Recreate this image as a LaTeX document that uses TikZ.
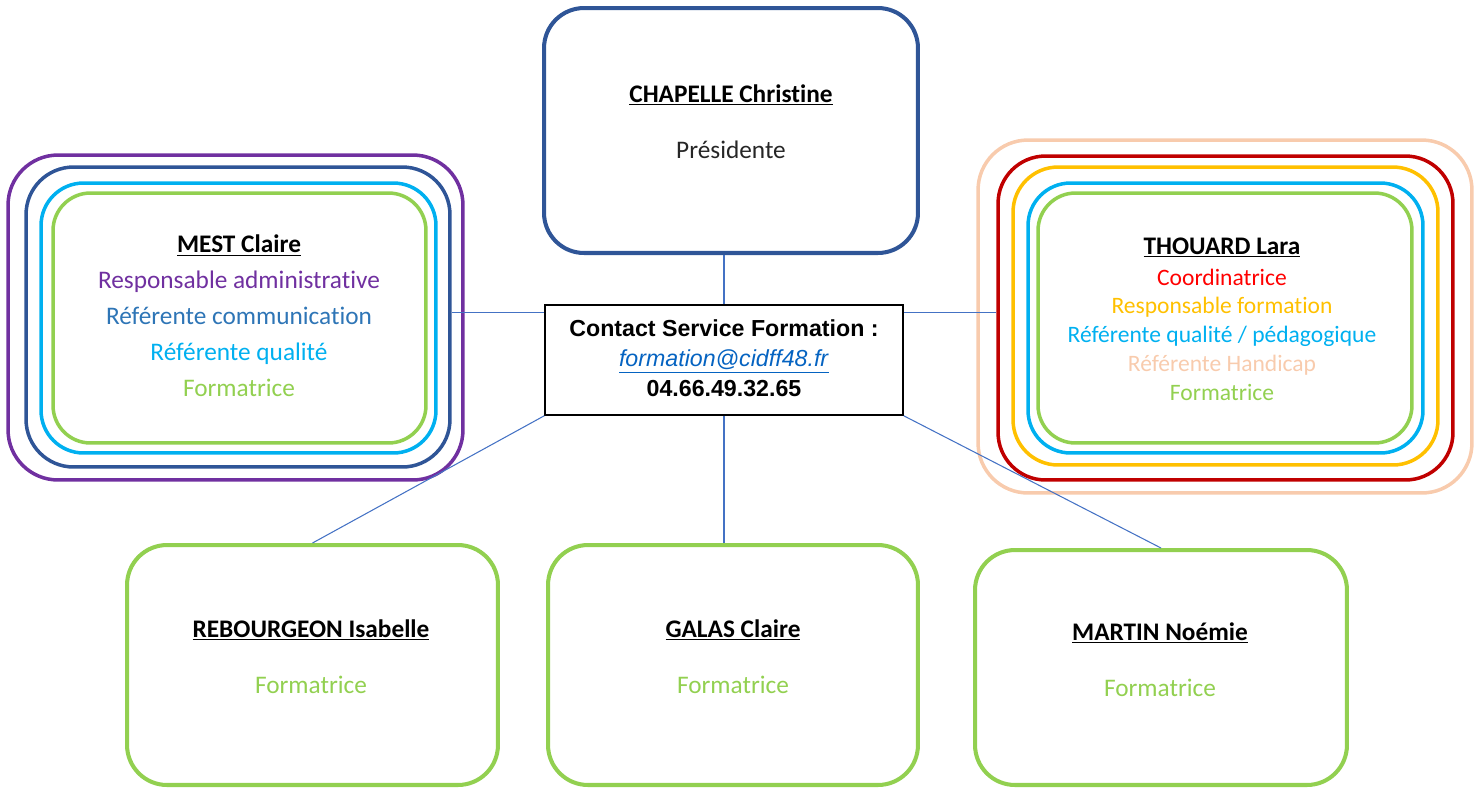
\documentclass[tikz,border=0pt]{standalone}
\usepackage{fontspec}
\setmainfont{Carlito}[RawFeature={-liga;-clig;-dlig;-calt}]
\newfontfamily\arialfont{Liberation Sans}
\usepackage{tikz}

\definecolor{darkblue}{HTML}{2F5597}
\definecolor{violet}{HTML}{7030A0}
\definecolor{midblue}{HTML}{2E75B6}
\definecolor{skyblue}{HTML}{00B0F0}
\definecolor{leafgreen}{HTML}{92D050}
\definecolor{darkred}{HTML}{C00000}
\definecolor{brightred}{HTML}{FF0000}
\definecolor{amber}{HTML}{FFC000}
\definecolor{peach}{HTML}{F8CBAD}
\definecolor{linkblue}{HTML}{4472C4}
\definecolor{mailblue}{HTML}{0563C1}
\definecolor{textgray}{HTML}{262626}

\begin{document}
\begin{tikzpicture}[x=0.02cm,y=-0.02cm]
  \tikzstyle{every node}=[font=\fontsize{14.4}{20.5}\selectfont]
  \tikzstyle{card}=[draw,rounded corners=0.8cm,line width=2.3pt,inner sep=0pt]
  \tikzstyle{ring}=[draw,rounded corners=0.8cm,line width=2pt,inner sep=0pt]
  \tikzstyle{link}=[draw=linkblue,line width=0.6pt]
  \useasboundingbox (0,0) rectangle (1481,789);
  % president
  \path (731,130.5) node[card,draw=darkblue,minimum width=7.48cm,minimum height=4.9cm] (chapelle) {};
  \path (731,121.5) node[align=center] (chapelleTxt) {\underline{\textbf{CHAPELLE Christine}}\\[11.5pt]\textcolor{textgray}{Présidente}};
  % left rings
  \path (235.5,317.5) node[ring,draw=violet,rounded corners=1cm,minimum width=9.1cm,minimum height=6.5cm] (mestA) {};
  \path (238,317) node[ring,draw=darkblue,rounded corners=0.95cm,minimum width=8.48cm,minimum height=6cm] (mestB) {};
  \path (238.5,318) node[ring,draw=skyblue,rounded corners=0.85cm,minimum width=7.9cm,minimum height=5.4cm] (mestC) {};
  \path (239.5,318) node[ring,draw=leafgreen,rounded corners=0.75cm,minimum width=7.46cm,minimum height=5cm] (mestD) {};
  \path (239,316) node[align=center] (mestTxt) {\underline{\textbf{MEST Claire}}\\
    \textcolor{violet}{Responsable administrative}\\
    \textcolor{midblue}{Référente communication}\\
    \textcolor{skyblue}{Référente qualité}\\
    \textcolor{leafgreen}{Formatrice}};
  % right rings
  \path (1225,316.5) node[ring,draw=peach,rounded corners=1cm,minimum width=9.88cm,minimum height=7.06cm] (thouardA) {};
  \path (1225.5,318) node[ring,draw=darkred,rounded corners=0.95cm,minimum width=9.1cm,minimum height=6.48cm] (thouardB) {};
  \path (1225.5,316) node[ring,draw=amber,rounded corners=0.9cm,minimum width=8.5cm,minimum height=5.96cm] (thouardC) {};
  \path (1225.5,318) node[ring,draw=skyblue,rounded corners=0.85cm,minimum width=7.9cm,minimum height=5.4cm] (thouardD) {};
  \path (1225,318) node[ring,draw=leafgreen,rounded corners=0.75cm,minimum width=7.48cm,minimum height=5cm] (thouardE) {};
  \path (1222,319) node[align=center,font=\fontsize{13.4}{16.4}\selectfont] (thouardTxt) {{\fontsize{14.4}{16.4}\selectfont\underline{\textbf{THOUARD Lara}}}\\[1.2pt]
    \textcolor{brightred}{Coordinatrice}\\
    \textcolor{amber}{Responsable formation}\\
    \textcolor{skyblue}{Référente qualité / pédagogique}\\
    \textcolor{peach}{Référente Handicap}\\
    \textcolor{leafgreen}{Formatrice}};
  % contact
  \path (724,360) node[draw,line width=0.9pt,minimum width=7.16cm,minimum height=2.2cm,inner sep=0pt] (contact) {};
  \path (724,358) node[align=center,font=\arialfont\fontsize{13.2}{17}\selectfont] (contactTxt) {\textbf{Contact Service Formation :}\\
    \textcolor{mailblue}{\underline{\textit{formation@cidff48.fr}}}\\
    \textbf{04.66.49.32.65}};
  % trainers
  \path (312.5,665) node[card,draw=leafgreen,minimum width=7.42cm,minimum height=4.8cm] (rebourgeon) {};
  \path (311,656.5) node[align=center] (rebourgeonTxt) {\underline{\textbf{REBOURGEON Isabelle}}\\[11.5pt]\textcolor{leafgreen}{Formatrice}};
  \path (733,665) node[card,draw=leafgreen,minimum width=7.4cm,minimum height=4.8cm] (galas) {};
  \path (733,656.5) node[align=center] (galasTxt) {\underline{\textbf{GALAS Claire}}\\[11.5pt]\textcolor{leafgreen}{Formatrice}};
  \path (1161,667.5) node[card,draw=leafgreen,minimum width=7.44cm,minimum height=4.7cm] (martin) {};
  \path (1160,659.5) node[align=center] (martinTxt) {\underline{\textbf{MARTIN Noémie}}\\[11.5pt]\textcolor{leafgreen}{Formatrice}};
  % links
  \draw[link] (contact.north) -- (contact.north |- chapelle.south);
  \draw[link] ([yshift=-0.16cm]contact.north west) -- ([yshift=-0.16cm]contact.north west -| mestB.east);
  \draw[link] ([yshift=-0.16cm]contact.north east) -- ([yshift=-0.16cm]contact.north east -| thouardB.west);
  \draw[link] (contact.south west) -- (rebourgeon.north);
  \draw[link] (contact.south) -- (contact.south |- galas.north);
  \draw[link] (contact.south east) -- (martin.north);
\end{tikzpicture}
\end{document}
